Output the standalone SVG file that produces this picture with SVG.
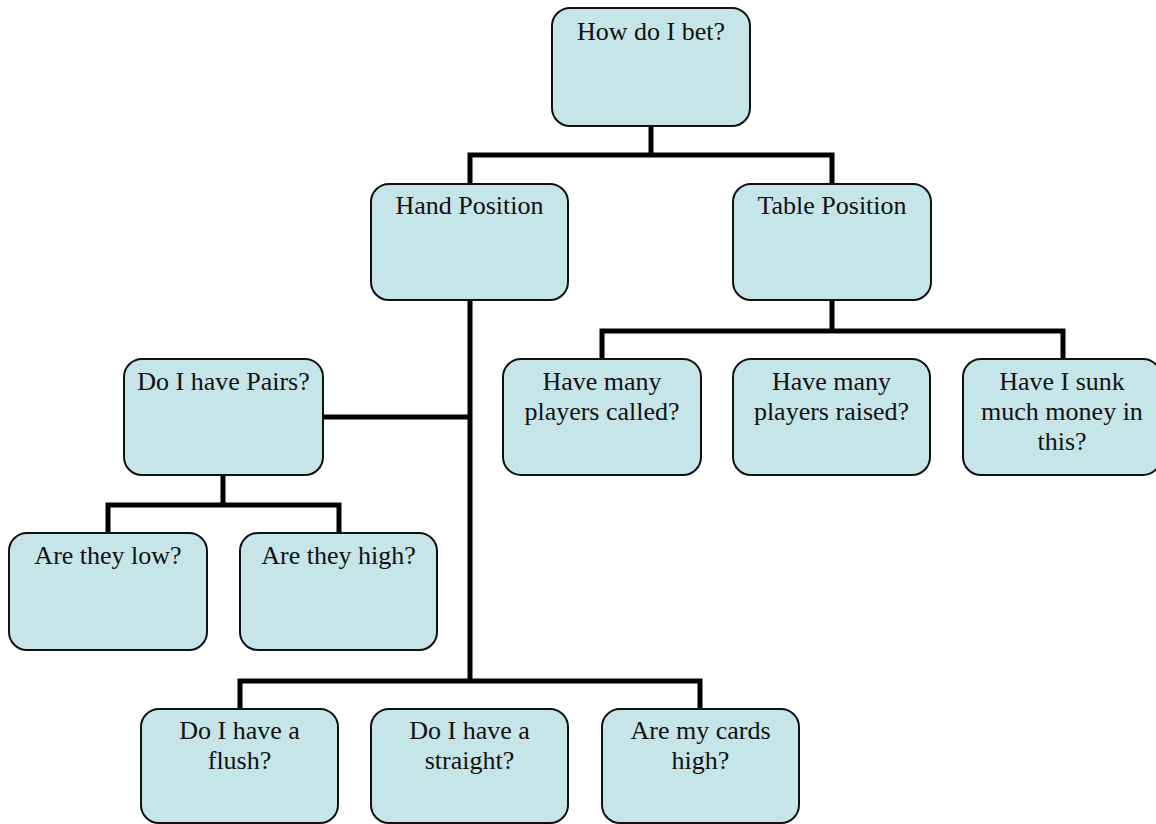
<svg xmlns="http://www.w3.org/2000/svg" width="1156" height="824" viewBox="0 0 1156 824">
<style>
.box{fill:#c5e5e8;stroke:#111;stroke-width:2}
.lbl{font-family:"Liberation Serif","Times New Roman",serif;font-size:26px;fill:#111;text-anchor:middle}
.con{fill:none;stroke:#000;stroke-width:5;stroke-linejoin:miter;stroke-linecap:butt}
</style>
<rect width="1156" height="824" fill="#fff"/>
<g id="connectors">
<path class="con" d="M651 126V155M470 155H832M470 152.5V184M832 152.5V184"/>
<path class="con" d="M470 300V681M323 417H470"/>
<path class="con" d="M832 300V331M602 331H1063M602 328.5V359M1063 328.5V359"/>
<path class="con" d="M223 475V505M108 505H339M108 502.5V533M339 502.5V533"/>
<path class="con" d="M240 681H700M240 678.5V709M700 678.5V709"/>
</g>
<g id="n-bet"><rect class="box" x="552" y="8" width="198" height="118" rx="18"/><text class="lbl" x="651" y="40">How do I bet?</text></g>
<g id="n-hand"><rect class="box" x="371" y="184" width="197" height="116" rx="18"/><text class="lbl" x="469.5" y="214">Hand Position</text></g>
<g id="n-table"><rect class="box" x="733" y="184" width="198" height="116" rx="18"/><text class="lbl" x="832" y="214">Table Position</text></g>
<g id="n-pairs"><rect class="box" x="124" y="359" width="199" height="116" rx="18"/><text class="lbl" x="223.5" y="390">Do I have Pairs?</text></g>
<g id="n-called"><rect class="box" x="503" y="359" width="198" height="116" rx="18"/><text class="lbl" x="602" y="390">Have many</text><text class="lbl" x="602" y="420">players called?</text></g>
<g id="n-raised"><rect class="box" x="733" y="359" width="197" height="116" rx="18"/><text class="lbl" x="831.5" y="390">Have many</text><text class="lbl" x="831.5" y="420">players raised?</text></g>
<g id="n-sunk"><rect class="box" x="963" y="359" width="198" height="116" rx="18"/><text class="lbl" x="1062" y="390">Have I sunk</text><text class="lbl" x="1062" y="420">much money in</text><text class="lbl" x="1062" y="450">this?</text></g>
<g id="n-low"><rect class="box" x="9" y="533" width="198" height="117" rx="18"/><text class="lbl" x="108" y="564">Are they low?</text></g>
<g id="n-high"><rect class="box" x="240" y="533" width="197" height="117" rx="18"/><text class="lbl" x="338.5" y="564">Are they high?</text></g>
<g id="n-flush"><rect class="box" x="141" y="709" width="197" height="114" rx="18"/><text class="lbl" x="239.5" y="739">Do I have a</text><text class="lbl" x="239.5" y="769">flush?</text></g>
<g id="n-straight"><rect class="box" x="371" y="709" width="197" height="114" rx="18"/><text class="lbl" x="469.5" y="739">Do I have a</text><text class="lbl" x="469.5" y="769">straight?</text></g>
<g id="n-cards"><rect class="box" x="602" y="709" width="197" height="114" rx="18"/><text class="lbl" x="700.5" y="739">Are my cards</text><text class="lbl" x="700.5" y="769">high?</text></g>
</svg>
